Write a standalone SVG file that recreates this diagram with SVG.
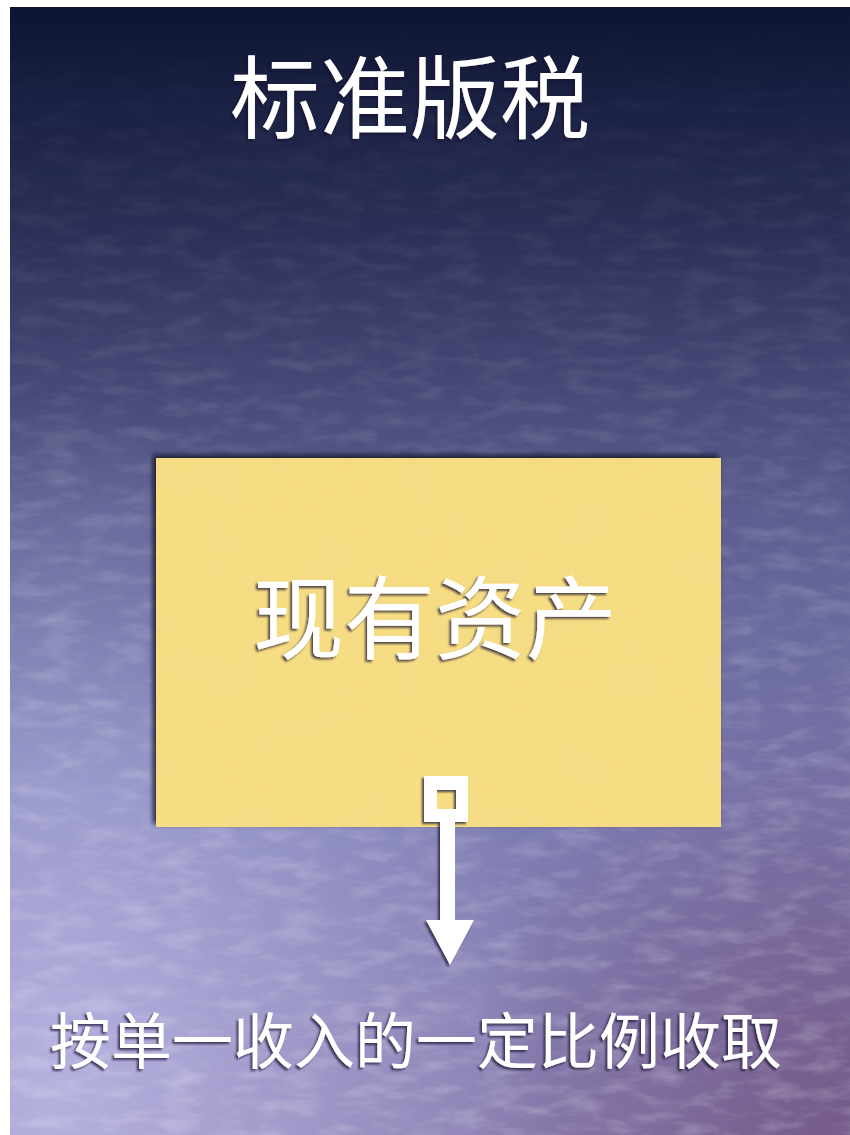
<svg xmlns="http://www.w3.org/2000/svg" width="850" height="1135" viewBox="0 0 850 1135">
  <defs>
    <style>
      .cjk { font-family: "Noto Sans CJK SC", "Noto Sans", sans-serif; fill: #ffffff; text-anchor: middle; }
      .title { font-size: 90px; }
      .node-label { font-size: 91px; }
      .caption { font-size: 61px; }
    </style>
    <linearGradient id="bg" x1="0" y1="0" x2="0" y2="1">
      <stop offset="0" stop-color="#0d1532"/>
      <stop offset="0.2" stop-color="#2c3058"/>
      <stop offset="0.45" stop-color="#5c5e90"/>
      <stop offset="0.7" stop-color="#7c7cb2"/>
      <stop offset="1" stop-color="#8a7eb0"/>
    </linearGradient>
    <linearGradient id="fade" x1="0" y1="0" x2="0" y2="1">
      <stop offset="0" stop-color="#000"/>
      <stop offset="0.15" stop-color="#333"/>
      <stop offset="0.6" stop-color="#ccc"/>
      <stop offset="1" stop-color="#fff"/>
    </linearGradient>
    <mask id="textureMask" maskUnits="userSpaceOnUse" x="0" y="0" width="850" height="1135">
      <rect x="0" y="0" width="850" height="1135" fill="url(#fade)"/>
    </mask>
    <radialGradient id="glowLeft" cx="0.05" cy="0.95" r="0.6">
      <stop offset="0" stop-color="#c8c8f4" stop-opacity="0.7"/>
      <stop offset="1" stop-color="#c8c8f4" stop-opacity="0"/>
    </radialGradient>
    <radialGradient id="purpleRight" cx="1" cy="1" r="0.45">
      <stop offset="0" stop-color="#6a4a78" stop-opacity="0.7"/>
      <stop offset="1" stop-color="#6a4a78" stop-opacity="0"/>
    </radialGradient>
    <filter id="texture" x="0" y="0" width="100%" height="100%">
      <feTurbulence type="fractalNoise" baseFrequency="0.025 0.07" numOctaves="4" seed="11" result="n"/>
      <feColorMatrix in="n" type="matrix" values="0 0 0 0 1  0 0 0 0 1  0 0 0 0 1  1.4 0 0 0 -0.6" result="light"/>
      <feComposite in="light" in2="SourceGraphic" operator="in"/>
    </filter>
    <filter id="paper" x="0" y="0" width="100%" height="100%">
      <feTurbulence type="fractalNoise" baseFrequency="0.02" numOctaves="3" seed="3" result="n"/>
      <feColorMatrix in="n" type="matrix" values="0 0 0 0 0.85  0 0 0 0 0.7  0 0 0 0 0.35  0.5 0 0 0 -0.2"/>
      <feComposite in2="SourceGraphic" operator="in"/>
    </filter>
    <filter id="emboss" x="-10%" y="-10%" width="120%" height="120%">
      <feDropShadow dx="-2" dy="2" stdDeviation="1" flood-color="#1a1530" flood-opacity="0.75"/>
    </filter>
    <filter id="cardShadow" x="-5%" y="-5%" width="110%" height="110%">
      <feDropShadow dx="-3" dy="-3" stdDeviation="2.5" flood-color="#0e1028" flood-opacity="0.85"/>
    </filter>
  </defs>

  <rect x="0" y="0" width="850" height="1135" fill="#ffffff"/>
  <g id="background">
    <rect x="10" y="7" width="840" height="1128" fill="url(#bg)"/>
    <rect x="10" y="7" width="840" height="1128" fill="url(#glowLeft)"/>
    <rect x="10" y="7" width="840" height="1128" fill="url(#purpleRight)"/>
    <g mask="url(#textureMask)">
      <rect x="10" y="7" width="840" height="1128" fill="#ffffff" opacity="0.35" filter="url(#texture)"/>
    </g>
  </g>

  <g id="title">
    <text class="cjk title" x="410" y="131" filter="url(#emboss)">标准版税</text>
  </g>

  <g id="node-existing-assets">
    <rect x="156" y="458" width="565" height="369" fill="#f6dc82" filter="url(#cardShadow)"/>
    <rect x="156" y="458" width="565" height="369" fill="#f6dc82" opacity="0.5" filter="url(#paper)"/>
    <text class="cjk node-label" x="435" y="652" filter="url(#emboss)">现有资产</text>
  </g>

  <g id="connectors" filter="url(#emboss)" fill="#ffffff">
    <path d="M424,776 H468 V822 H424 Z M437,790 V809 H456 V790 Z" fill-rule="evenodd"/>
    <rect x="440" y="822" width="15" height="99"/>
    <polygon points="426,920 474,920 450,965"/>
  </g>

  <g id="caption">
    <text class="cjk caption" x="416" y="1064" filter="url(#emboss)">按单一收入的一定比例收取</text>
  </g>
</svg>
